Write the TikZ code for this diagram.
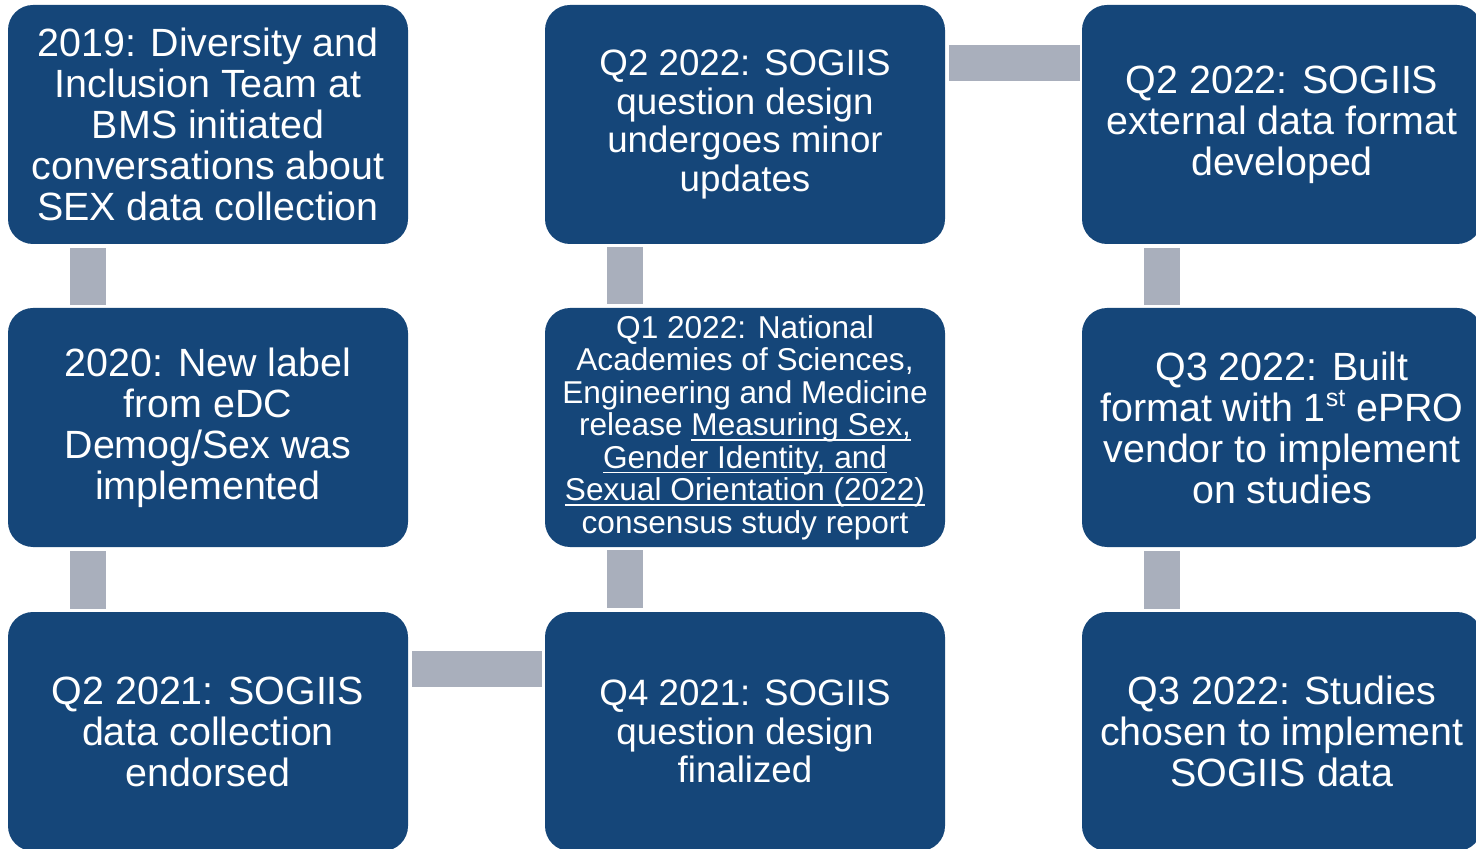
\documentclass[tikz,border=0pt]{standalone}
\usepackage{fontspec}
\setmainfont{Liberation Sans}
\usetikzlibrary{calc}
\definecolor{boxblue}{RGB}{21,70,121}
\definecolor{bargray}{RGB}{169,175,188}
\newcommand\myul[1]{\leavevmode\setbox0\hbox{#1}\rlap{\rule[-2.6pt]{\wd0}{0.9pt}}\box0}
\newcommand\supst[1]{\raisebox{0.36em}{\fontsize{12.5}{12.5}\selectfont #1}}
\tikzset{
  box/.style={fill=boxblue, rounded corners=12.5pt, minimum width=200pt, minimum height=119.5pt,
    text=white, align=center, inner sep=0pt, font=\fontsize{19.7}{20.5}\selectfont},
  smalltext/.style={font=\fontsize{15.8}{16.25}\selectfont},
  midtext/.style={font=\fontsize{18.35}{19.35}\selectfont},
  bar/.style={draw=bargray, line width=18pt}
}
\begin{document}
\begin{tikzpicture}[x=0.5pt,y=-0.5pt]
\useasboundingbox (0,0) rectangle (1476,849);
\clip (0,0) rectangle (1476,849);
\node[box] (n1) at (208,124.5) {2019: Diversity and\\Inclusion Team at\\BMS initiated\\conversations about\\SEX data collection};
\node[box] (n2) at (208,427.5) {2020: New label\\from eDC\\Demog/Sex was\\implemented};
\node[box] (n3) at (208,731.5) {Q2 2021: SOGIIS\\data collection\\endorsed};
\node[box,midtext] (n4) at (745,731.5) {Q4 2021: SOGIIS\\question design\\finalized};
\node[box,smalltext] (n5) at (745,427.5) {Q1 2022: National\\Academies of Sciences,\\Engineering and Medicine\\release \myul{Measuring Sex,}\\\myul{Gender Identity, and}\\\myul{Sexual Orientation (2022)}\\consensus study report};
\node[box,midtext] (n6) at (745,124.5) {Q2 2022: SOGIIS\\question design\\undergoes minor\\updates};
\node[box] (n7) at (1282,124.5) {Q2 2022: SOGIIS\\external data format\\developed};
\node[box] (n8) at (1282,427.5) {Q3 2022: Built\\format with 1\supst{st} ePRO\\vendor to implement\\on studies};
\node[box] (n9) at (1282,731.5) {Q3 2022: Studies\\chosen to implement\\SOGIIS data};
\draw[bar] ($(n1.south west)+(80,4)$) -- ($(n2.north west)+(80,-3)$);
\draw[bar] ($(n2.south west)+(80,4)$) -- ($(n3.north west)+(80,-3)$);
\draw[bar] ($(n3.north east)+(4,57.5)$) -- ($(n4.north west)+(-3,57.5)$);
\draw[bar] ($(n4.north west)+(80,-4)$) -- ($(n5.south west)+(80,3)$);
\draw[bar] ($(n5.north west)+(80,-4)$) -- ($(n6.south west)+(80,3)$);
\draw[bar] ($(n6.north east)+(4,58.5)$) -- ($(n7.north west)+(-2,58.5)$);
\draw[bar] ($(n7.south west)+(80,4)$) -- ($(n8.north west)+(80,-3)$);
\draw[bar] ($(n8.south west)+(80,4)$) -- ($(n9.north west)+(80,-3)$);
\end{tikzpicture}
\end{document}
